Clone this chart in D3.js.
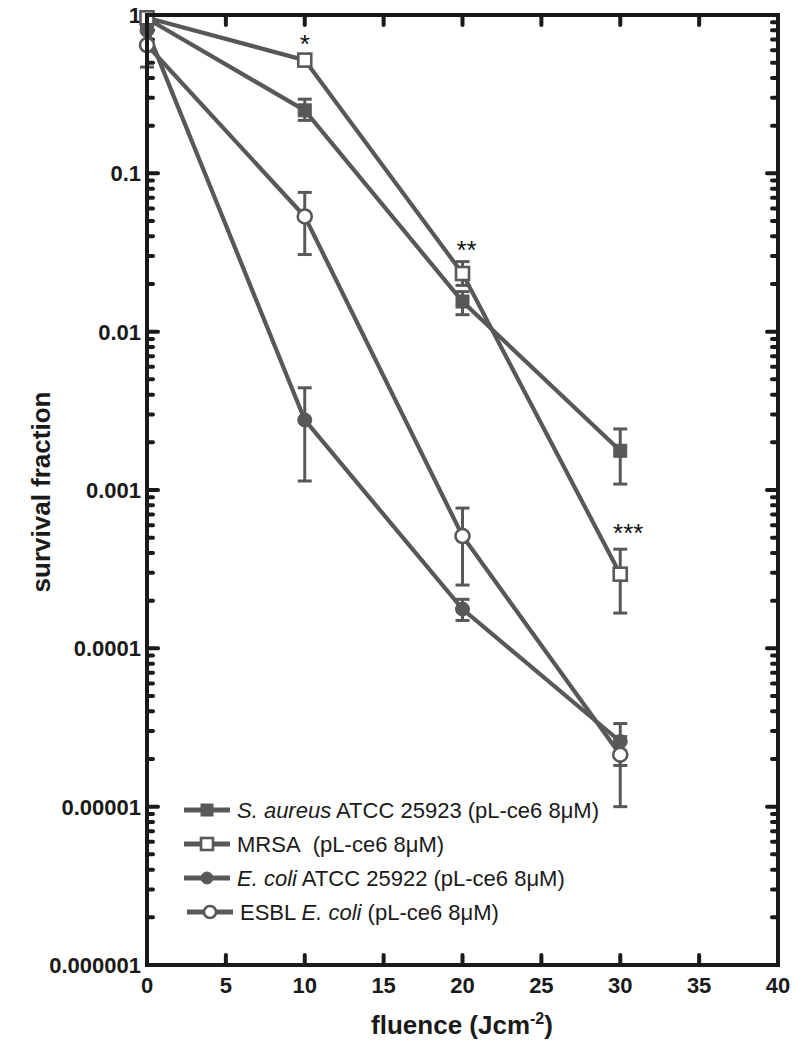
<!DOCTYPE html>
<html><head><meta charset="utf-8">
<script src="https://cdn.jsdelivr.net/npm/d3@7"></script>
<style>body{margin:0;background:#fff}text{font-family:"Liberation Sans",Arial,sans-serif}</style>
</head><body>
<svg id="c" width="795" height="1050"></svg>
<script>
const fluence = [0, 10, 20, 30];
const seriesNames = ["S. aureus ATCC 25923", "MRSA", "E. coli ATCC 25922", "ESBL E. coli"];
const saureus = [0.95, 0.25, 0.0155, 0.00177];
const saureusLo = [null, 0.216, 0.0128, 0.00109];
const saureusHi = [null, 0.294, 0.0179, 0.00243];
const mrsa = [0.96, 0.519, 0.0233, 0.000294];
const mrsaLo = [null, 0.49, 0.0196, 0.000167];
const mrsaHi = [null, 0.55, 0.0277, 0.000423];
const ecoli = [0.8, 0.00277, 0.000177, 0.0000258];
const ecoliLo = [null, 0.00114, 0.000150, 0.0000182];
const ecoliHi = [null, 0.00442, 0.000204, 0.0000335];
const esbl = [0.646, 0.0534, 0.000512, 0.0000213];
const esblLo = [0.469, 0.0307, 0.000251, 0.0000100];
const esblHi = [0.85, 0.0758, 0.000769, 0.0000277];
const xTicks = [0, 5, 10, 15, 20, 25, 30, 35, 40];
const yTicks = [1, 0.1, 0.01, 0.001, 0.0001, 0.00001, 0.000001];
const yTickLabels = ["1", "0.1", "0.01", "0.001", "0.0001", "0.00001", "0.000001"];
const stars = [{x: 10, v: 0.519, t: "*"}, {x: 20, v: 0.0233, t: "**"}, {x: 30, v: 0.000294, t: "***"}];

const svg = d3.select("#c");
const L = 147, R = 778, T = 15, B = 965;
const x = d3.scaleLinear().domain([0, 40]).range([L, R]);
const y = d3.scaleLog().domain([1e-6, 1]).range([B, T]);
const col = "#58585a";

// minor ticks
const minor = [];
for (let e = -6; e < 0; e++) for (let m = 2; m <= 9; m++) minor.push(m * Math.pow(10, e));
const ax = svg.append("g");
ax.selectAll(".mnl").data(minor).enter().append("line")
  .attr("x1", L).attr("x2", L + 6).attr("y1", d => y(d)).attr("y2", d => y(d))
  .attr("stroke", "#1a1a1a").attr("stroke-width", 4).attr("stroke-linecap", "round");
ax.selectAll(".mnr").data(minor).enter().append("line")
  .attr("x1", R).attr("x2", R - 6).attr("y1", d => y(d)).attr("y2", d => y(d))
  .attr("stroke", "#1a1a1a").attr("stroke-width", 4).attr("stroke-linecap", "round");
ax.selectAll(".mjl").data(yTicks.slice(1, 6)).enter().append("line")
  .attr("x1", L).attr("x2", L + 11).attr("y1", d => y(d)).attr("y2", d => y(d))
  .attr("stroke", "#1a1a1a").attr("stroke-width", 4).attr("stroke-linecap", "round");
ax.selectAll(".mjr").data(yTicks.slice(1, 6)).enter().append("line")
  .attr("x1", R).attr("x2", R - 11).attr("y1", d => y(d)).attr("y2", d => y(d))
  .attr("stroke", "#1a1a1a").attr("stroke-width", 4).attr("stroke-linecap", "round");
ax.selectAll(".xb").data(xTicks.slice(1, 8)).enter().append("line")
  .attr("x1", d => x(d)).attr("x2", d => x(d)).attr("y1", B).attr("y2", B - 10)
  .attr("stroke", "#1a1a1a").attr("stroke-width", 4).attr("stroke-linecap", "round");
ax.selectAll(".xt").data(xTicks.slice(1, 8)).enter().append("line")
  .attr("x1", d => x(d)).attr("x2", d => x(d)).attr("y1", T).attr("y2", T + 10)
  .attr("stroke", "#1a1a1a").attr("stroke-width", 4).attr("stroke-linecap", "round");

// tick labels
ax.selectAll(".yl").data(yTicks).enter().append("text")
  .attr("x", L - 6).attr("y", d => y(d)).attr("dy", "0.36em")
  .attr("text-anchor", "end").attr("font-weight", "bold").attr("font-size", 22)
  .attr("fill", "#1a1a1a").text((d, i) => yTickLabels[i]);
ax.selectAll(".xl").data(xTicks).enter().append("text")
  .attr("x", d => x(d)).attr("y", B + 28)
  .attr("text-anchor", "middle").attr("font-weight", "bold").attr("font-size", 22)
  .attr("fill", "#1a1a1a").text(d => d);

// titles
const xt = svg.append("text").attr("x", 462).attr("y", 1034).attr("text-anchor", "middle")
  .attr("font-weight", "bold").attr("font-size", 26).attr("fill", "#1a1a1a");
xt.append("tspan").text("fluence (Jcm");
xt.append("tspan").attr("dy", -10).attr("font-size", 16).text("-2");
xt.append("tspan").attr("dy", 10).text(")");
svg.append("text").attr("transform", "translate(50,492) rotate(-90)").attr("text-anchor", "middle")
  .attr("font-weight", "bold").attr("font-size", 26).attr("fill", "#1a1a1a").text("survival fraction");

// series
const series = [
  {v: saureus, lo: saureusLo, hi: saureusHi, shape: "square", fill: true},
  {v: mrsa, lo: mrsaLo, hi: mrsaHi, shape: "square", fill: false},
  {v: ecoli, lo: ecoliLo, hi: ecoliHi, shape: "circle", fill: true},
  {v: esbl, lo: esblLo, hi: esblHi, shape: "circle", fill: false}
];
const line = d3.line().x(d => x(d[0])).y(d => y(d[1]));
function marker(g, s, cx, cy, sz) {
  if (s.shape === "square") {
    g.append("rect").attr("x", cx - sz / 2).attr("y", cy - sz / 2).attr("width", sz).attr("height", sz)
      .attr("fill", s.fill ? col : "#fff").attr("stroke", col).attr("stroke-width", s.fill ? 1 : 2.6);
  } else {
    g.append("circle").attr("cx", cx).attr("cy", cy).attr("r", sz / 2)
      .attr("fill", s.fill ? col : "#fff").attr("stroke", col).attr("stroke-width", s.fill ? 1 : 2.6);
  }
}
series.forEach(s => {
  const g = svg.append("g");
  const pts = fluence.map((f, i) => [f, s.v[i]]);
  g.append("path").attr("d", line(pts)).attr("fill", "none").attr("stroke", col).attr("stroke-width", 4.2);
  fluence.forEach((f, i) => {
    if (s.lo[i] == null) return;
    const cx = x(f);
    g.append("line").attr("x1", cx).attr("x2", cx).attr("y1", y(s.hi[i])).attr("y2", y(s.lo[i]))
      .attr("stroke", col).attr("stroke-width", 3);
    [s.hi[i], s.lo[i]].forEach(v => g.append("line").attr("x1", cx - 7).attr("x2", cx + 7)
      .attr("y1", y(v)).attr("y2", y(v)).attr("stroke", col).attr("stroke-width", 3));
  });
  fluence.forEach((f, i) => marker(g, s, x(f), y(s.v[i]), s.shape === "square" ? 13 : 14));
});

// asterisks
svg.selectAll(".st").data(stars).enter().append("text")
  .attr("x", d => x(d.x) + (d.t.length - 1) * 4).attr("y", (d, i) => y(d.v) - [7, 15, 32][i])
  .attr("text-anchor", "middle").attr("font-size", 26).attr("fill", "#111").text(d => d.t);

// border
svg.append("rect").attr("x", L).attr("y", T).attr("width", R - L).attr("height", B - T)
  .attr("fill", "none").attr("stroke", "#1a1a1a").attr("stroke-width", 4);

// legend
const lg = svg.append("g");
const rows = [810, 844, 878, 912];
series.forEach((s, i) => {
  const off = i === 3 ? 3 : 0;
  lg.append("line").attr("x1", 184 + off).attr("x2", 230 + off).attr("y1", rows[i]).attr("y2", rows[i])
    .attr("stroke", col).attr("stroke-width", 5);
  marker(lg, s, 207 + off, rows[i], 12);
  const t = lg.append("text").attr("x", 237 + off).attr("y", rows[i]).attr("dy", "0.36em")
    .attr("font-size", 22).attr("fill", "#1a1a1a");
  if (i === 0) { t.append("tspan").attr("font-style", "italic").text("S. aureus"); t.append("tspan").text(" ATCC 25923 (pL-ce6 8μM)"); }
  if (i === 1) { t.append("tspan").text("MRSA\u00a0\u00a0(pL-ce6 8μM)"); }
  if (i === 2) { t.append("tspan").attr("font-style", "italic").text("E. coli"); t.append("tspan").text(" ATCC 25922 (pL-ce6 8μM)"); }
  if (i === 3) { t.append("tspan").text("ESBL "); t.append("tspan").attr("font-style", "italic").text("E. coli"); t.append("tspan").text(" (pL-ce6 8μM)"); }
});
</script>
</body></html>
